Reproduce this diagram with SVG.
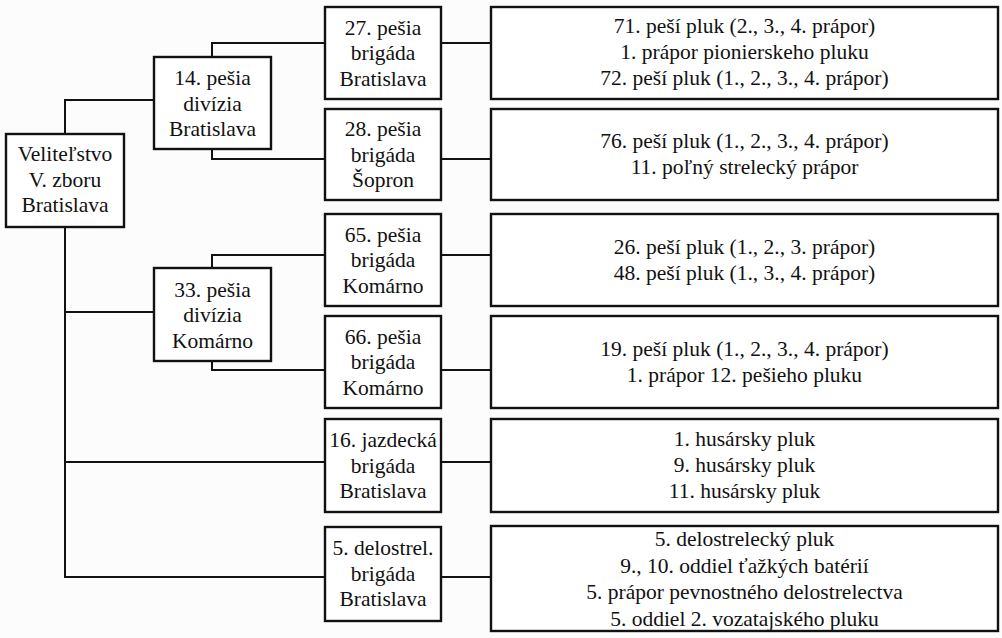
<svg xmlns="http://www.w3.org/2000/svg" width="1002" height="638" viewBox="0 0 1002 638">
<style>
.box{fill:#fff;stroke:#111;stroke-width:2.4}
.ln{fill:none;stroke:#111;stroke-width:2}
text{font-family:"Liberation Serif","Times New Roman",serif;font-size:21.5px;fill:#111;text-anchor:middle}
</style>
<rect width="1002" height="638" fill="#fcfcfc"/>
<g id="connectors">
<polyline class="ln" points="65,134 65,100 154,100"/>
<polyline class="ln" points="65,227 65,577 325,577"/>
<line class="ln" x1="65" y1="312" x2="154" y2="312"/>
<line class="ln" x1="65" y1="462" x2="325" y2="462"/>
<polyline class="ln" points="212,57 212,43 325,43"/>
<polyline class="ln" points="212,149 212,159 325,159"/>
<polyline class="ln" points="212,268 212,255 325,255"/>
<polyline class="ln" points="212,361 212,370 325,370"/>
<line class="ln" x1="441" y1="43" x2="491" y2="43"/>
<line class="ln" x1="441" y1="159" x2="491" y2="159"/>
<line class="ln" x1="441" y1="255" x2="491" y2="255"/>
<line class="ln" x1="441" y1="370" x2="491" y2="370"/>
<line class="ln" x1="441" y1="462" x2="491" y2="462"/>
<line class="ln" x1="441" y1="577" x2="491" y2="577"/>
</g>
<g id="root"><rect class="box" x="6" y="134" width="118" height="93"/>
<text x="65" y="161">Veliteľstvo</text><text x="65" y="186.5">V. zboru</text><text x="65" y="212">Bratislava</text></g>
<g id="div14"><rect class="box" x="154" y="57" width="117" height="92"/>
<text x="212.5" y="85">14. pešia</text><text x="212.5" y="110.5">divízia</text><text x="212.5" y="136">Bratislava</text></g>
<g id="div33"><rect class="box" x="154" y="268" width="117" height="93"/>
<text x="212.5" y="296.5">33. pešia</text><text x="212.5" y="322">divízia</text><text x="212.5" y="347.5">Komárno</text></g>
<g id="br27"><rect class="box" x="325" y="7" width="116" height="92"/>
<text x="383" y="34.5">27. pešia</text><text x="383" y="60">brigáda</text><text x="383" y="85.5">Bratislava</text></g>
<g id="br28"><rect class="box" x="325" y="109" width="116" height="91"/>
<text x="383" y="136">28. pešia</text><text x="383" y="161.5">brigáda</text><text x="383" y="187">Šopron</text></g>
<g id="br65"><rect class="box" x="325" y="214" width="116" height="92"/>
<text x="383" y="241.5">65. pešia</text><text x="383" y="267">brigáda</text><text x="383" y="292.5">Komárno</text></g>
<g id="br66"><rect class="box" x="325" y="316" width="116" height="92"/>
<text x="383" y="343.5">66. pešia</text><text x="383" y="369">brigáda</text><text x="383" y="394.5">Komárno</text></g>
<g id="br16"><rect class="box" x="325" y="419" width="116" height="93"/>
<text x="383" y="447">16. jazdecká</text><text x="383" y="472.5">brigáda</text><text x="383" y="498">Bratislava</text></g>
<g id="br5"><rect class="box" x="325" y="527" width="116" height="94"/>
<text x="383" y="555">5. delostrel.</text><text x="383" y="580.5">brigáda</text><text x="383" y="606">Bratislava</text></g>
<g id="u27"><rect class="box" x="491" y="7" width="507" height="92"/>
<text x="744.5" y="33">71. peší pluk (2., 3., 4. prápor)</text><text x="744.5" y="59">1. prápor pionierskeho pluku</text><text x="744.5" y="85">72. peší pluk (1., 2., 3., 4. prápor)</text></g>
<g id="u28"><rect class="box" x="491" y="109" width="507" height="91"/>
<text x="744.5" y="148">76. peší pluk (1., 2., 3., 4. prápor)</text><text x="744.5" y="174">11. poľný strelecký prápor</text></g>
<g id="u65"><rect class="box" x="491" y="214" width="507" height="92"/>
<text x="744.5" y="254">26. peší pluk (1., 2., 3. prápor)</text><text x="744.5" y="280">48. peší pluk (1., 3., 4. prápor)</text></g>
<g id="u66"><rect class="box" x="491" y="316" width="507" height="92"/>
<text x="744.5" y="356">19. peší pluk (1., 2., 3., 4. prápor)</text><text x="744.5" y="382">1. prápor 12. pešieho pluku</text></g>
<g id="u16"><rect class="box" x="491" y="419" width="507" height="93"/>
<text x="744.5" y="446">1. husársky pluk</text><text x="744.5" y="472">9. husársky pluk</text><text x="744.5" y="498">11. husársky pluk</text></g>
<g id="u5"><rect class="box" x="491" y="526" width="507" height="105"/>
<text x="744.5" y="546">5. delostrelecký pluk</text><text x="744.5" y="572.5">9., 10. oddiel ťažkých batérií</text><text x="744.5" y="599">5. prápor pevnostného delostrelectva</text><text x="744.5" y="625.5">5. oddiel 2. vozatajského pluku</text></g>
</svg>
